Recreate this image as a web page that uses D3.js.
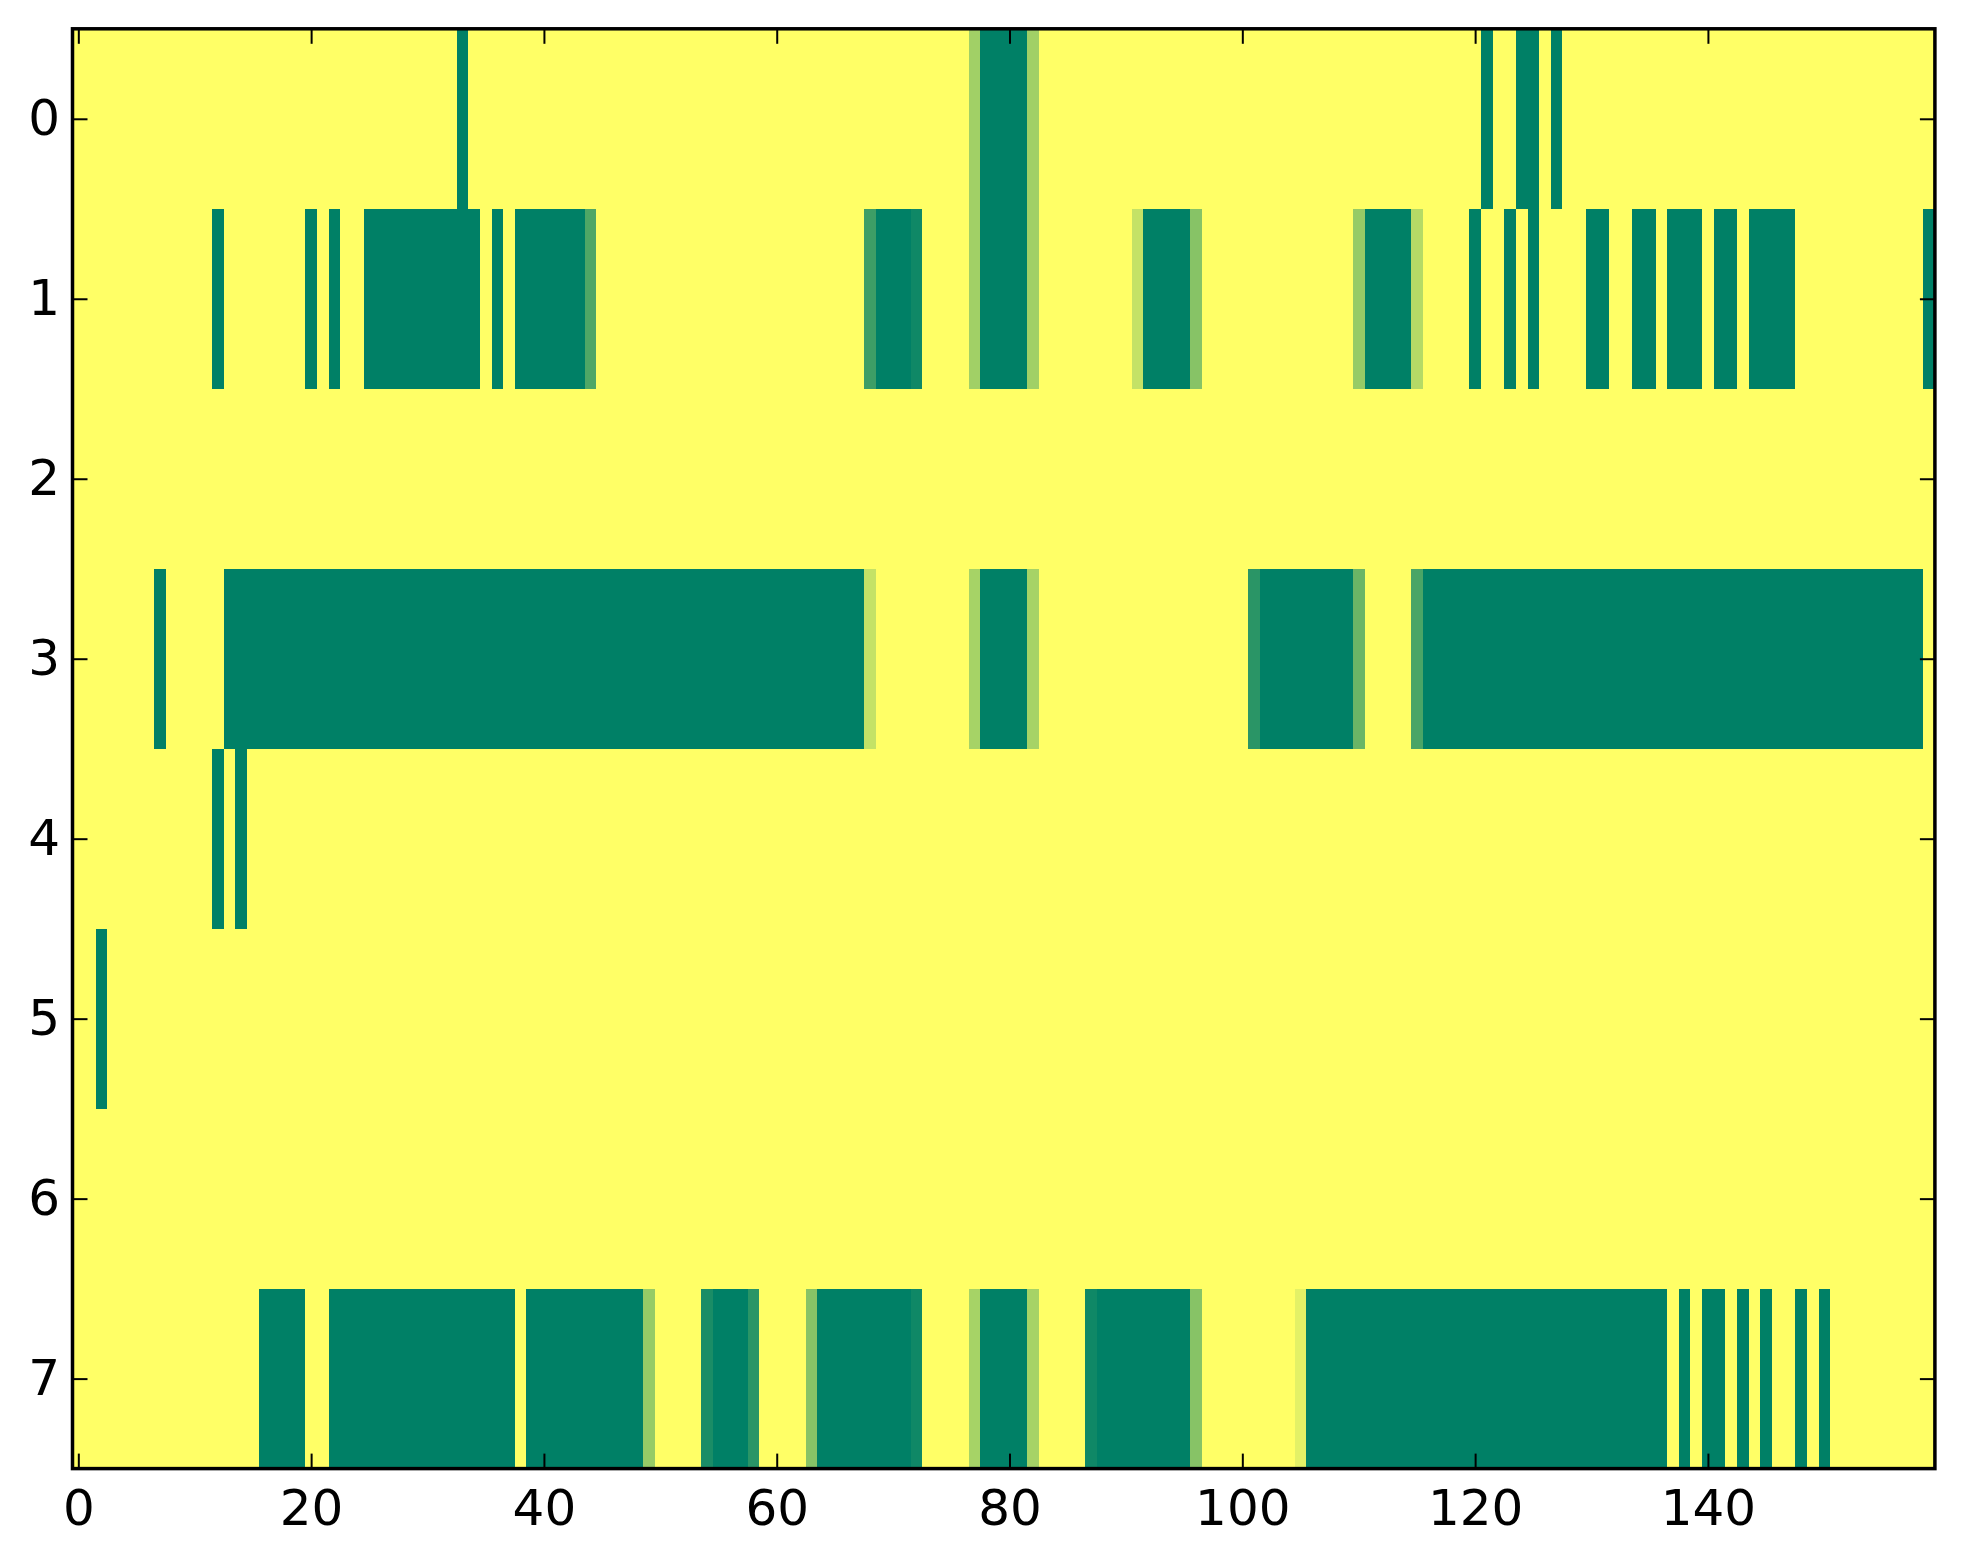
<!DOCTYPE html>
<html>
<head>
<meta charset="utf-8">
<script src="https://cdn.jsdelivr.net/npm/d3@7/dist/d3.min.js"></script>
<style>
  html, body { margin: 0; padding: 0; background: #ffffff; }
  svg { display: block; }
  text { font-family: "DejaVu Sans", sans-serif; }
</style>
</head>
<body>
<svg id="chart" width="1963" height="1564"></svg>
<script>
// ---- data: 8 rows x 160 columns, value in [0,1]; default 1 (yellow) ----
// each row: list of [firstCol, lastCol, value] runs where value != 1
const nCols = 160;
const rowIds = [0, 1, 2, 3, 4, 5, 6, 7];
const xTicks = [0, 20, 40, 60, 80, 100, 120, 140];
const yTicks = [0, 1, 2, 3, 4, 5, 6, 7];

const row0 = [[33,33,0],[77,77,0.63],[78,81,0],[82,82,0.63],[121,121,0],[124,125,0],[127,127,0]];
const row1 = [[12,12,0],[20,20,0],[22,22,0],[25,34,0],[36,36,0],[38,43,0],[44,44,0.31],
              [68,68,0.24],[69,71,0],[72,72,0.06],[77,77,0.63],[78,81,0],[82,82,0.63],
              [91,91,0.77],[92,95,0],[96,96,0.53],[110,110,0.59],[111,114,0],[115,115,0.71],
              [120,120,0],[123,123,0],[125,125,0],[130,131,0],[134,135,0],[137,139,0],
              [141,142,0],[144,147,0],[159,159,0]];
const row2 = [];
const row3 = [[7,7,0],[13,67,0],[68,68,0.77],[77,77,0.65],[78,81,0],[82,82,0.65],
              [101,101,0.165],[102,109,0],[110,110,0.42],[115,115,0.29],[116,158,0]];
const row4 = [[12,12,0],[14,14,0]];
const row5 = [[2,2,0]];
const row6 = [];
const row7 = [[16,19,0],[22,37,0],[39,48,0],[49,49,0.59],[54,54,0.10],[55,57,0],[58,58,0.165],
              [63,63,0.53],[64,71,0],[72,72,0.06],[77,77,0.65],[78,81,0],[82,82,0.65],
              [87,87,0.06],[88,95,0],[96,96,0.53],[105,105,0.89],[106,136,0],[138,138,0],
              [140,141,0],[143,143,0],[145,145,0],[148,148,0],[150,150,0]];
const rowRuns = [row0, row1, row2, row3, row4, row5, row6, row7];

// expand into cell table
const cells = [];
rowIds.forEach((r, ri) => {
  const vals = new Array(nCols).fill(1);
  rowRuns[ri].forEach(([a, b, v]) => { for (let c = a; c <= b; c++) vals[c] = v; });
  vals.forEach((v, c) => cells.push({ row: r, col: c, value: v }));
});

// ---- layout ----
const W = 1963, H = 1564;
const plotL = 72.5, plotR = 1934.9, plotT = 28.8, plotB = 1468.6;

const svg = d3.select("#chart");
const x = d3.scaleLinear().domain([-0.5, nCols - 0.5]).range([plotL, plotR]);
const y = d3.scaleLinear().domain([-0.5, rowIds.length - 0.5]).range([plotT, plotB]);
// matplotlib "summer" colormap
const color = d3.scaleLinear().domain([0, 1]).range(["#008066", "#ffff66"]).interpolate(d3.interpolateRgb);

svg.append("g")
  .selectAll("rect")
  .data(cells)
  .join("rect")
  .attr("shape-rendering", "crispEdges")
  .attr("x", d => Math.round(x(d.col - 0.5)))
  .attr("width", d => Math.round(x(d.col + 0.5)) - Math.round(x(d.col - 0.5)))
  .attr("y", d => Math.round(y(d.row - 0.5)))
  .attr("height", d => Math.round(y(d.row + 0.5)) - Math.round(y(d.row - 0.5)))
  .attr("fill", d => color(d.value));

const tickLen = 15, fontSize = 50;

function styleAxis(g) {
  g.select(".domain").remove();
  g.selectAll(".tick line").attr("stroke", "#000").attr("stroke-width", 2);
  g.selectAll(".tick text").attr("font-size", fontSize).attr("fill", "#000")
    .attr("font-family", "DejaVu Sans, sans-serif");
}

svg.append("g").attr("transform", `translate(0,${plotB})`)
  .call(d3.axisBottom(x).tickValues(xTicks).tickSizeInner(-tickLen).tickSizeOuter(0).tickPadding(21))
  .call(styleAxis);
svg.append("g").attr("transform", `translate(0,${plotT})`)
  .call(d3.axisTop(x).tickValues(xTicks).tickSizeInner(-tickLen).tickSizeOuter(0).tickFormat(""))
  .call(styleAxis);
svg.append("g").attr("transform", `translate(${plotL},0)`)
  .call(d3.axisLeft(y).tickValues(yTicks).tickSizeInner(-tickLen).tickSizeOuter(0).tickPadding(12.5))
  .call(styleAxis);
svg.append("g").attr("transform", `translate(${plotR},0)`)
  .call(d3.axisRight(y).tickValues(yTicks).tickSizeInner(-tickLen).tickSizeOuter(0).tickFormat(""))
  .call(styleAxis);

// frame
svg.append("rect")
  .attr("x", plotL).attr("y", plotT)
  .attr("width", plotR - plotL).attr("height", plotB - plotT)
  .attr("fill", "none").attr("stroke", "#000").attr("stroke-width", 3.5);
</script>
</body>
</html>
